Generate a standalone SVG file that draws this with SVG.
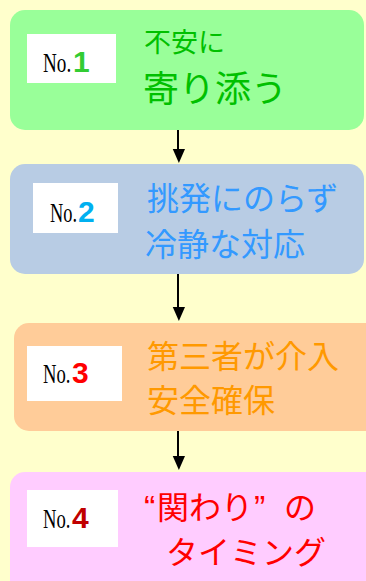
<svg xmlns="http://www.w3.org/2000/svg" width="366" height="581" viewBox="0 0 366 581">
<defs>
<style>
.bg{fill:#FFFFCC}
.lbl{fill:#FFFFFF}
.no{font-family:"Liberation Serif","Times New Roman",serif;font-size:27px;fill:#000}
.dig{font-family:"Liberation Sans",Arial,sans-serif;font-weight:bold;font-size:30px}
.jp{font-family:"Noto Sans CJK JP","Noto Sans CJK SC",sans-serif}
.q{font-family:"Liberation Sans",Arial,sans-serif;font-size:34px}
.conn line{stroke:#000;stroke-width:2}
</style>
<marker id="ah" markerWidth="14" markerHeight="16" refX="0" refY="8" orient="auto" markerUnits="userSpaceOnUse" viewBox="0 0 16 14">
<path d="M0,0 L16,7 L0,14 Z" fill="#000"/>
</marker>
</defs>
<rect class="bg" x="0" y="0" width="366" height="581"/>

<g id="node1">
<rect x="10" y="10" width="354" height="120" rx="15" fill="#99FF99"/>
<rect class="lbl" x="27" y="34" width="89" height="49"/>
<text class="no" transform="translate(43,72) scale(0.71,1)">No.</text>
<text class="dig" x="73" y="72" fill="#33CC33">1</text>
<text class="jp" x="144" y="52" font-size="27" fill="#00C000">不安に</text>
<text class="jp" x="143" y="102" font-size="36" fill="#00C000">寄り添う</text>
</g>

<g id="node2">
<rect x="10" y="164" width="354" height="110" rx="15" fill="#B8CCE4"/>
<rect class="lbl" x="33" y="183" width="85" height="50"/>
<text class="no" transform="translate(50,222) scale(0.68,1)">No.</text>
<text class="dig" x="78" y="222" fill="#00B0F0">2</text>
<text class="jp" x="147" y="210" font-size="32" fill="#3399FF">挑発にのらず</text>
<text class="jp" x="145" y="256" font-size="32" fill="#3399FF">冷静な対応</text>
</g>

<g id="node3">
<rect x="14" y="323" width="366" height="108" rx="15" fill="#FFCC99"/>
<rect class="lbl" x="27" y="346" width="95" height="55"/>
<text class="no" transform="translate(43,383) scale(0.69,1)">No.</text>
<text class="dig" x="72" y="383" fill="#FF0000">3</text>
<text class="jp" x="147" y="368" font-size="32" fill="#FF9900">第三者が介入</text>
<text class="jp" x="147" y="412" font-size="32" fill="#FF9900">安全確保</text>
</g>

<g id="node4">
<rect x="10" y="472" width="370" height="130" rx="15" fill="#FFCCFF"/>
<rect class="lbl" x="27" y="490" width="91" height="57"/>
<text class="no" transform="translate(43,528) scale(0.69,1)">No.</text>
<text class="dig" x="72" y="528" fill="#C00000">4</text>
<text class="jp" y="519" font-size="32" fill="#FF0000"><tspan class="q" x="144">“</tspan><tspan x="157">関わり</tspan><tspan class="q" x="254">”</tspan><tspan x="284">の</tspan></text>
<text class="jp" x="166" y="564" font-size="32" fill="#FF0000">タイミング</text>
</g>

<g id="connectors" class="conn">
<line x1="178" y1="130" x2="178" y2="149" marker-end="url(#ah)"/>
<line x1="178" y1="274" x2="178" y2="307" marker-end="url(#ah)"/>
<line x1="178" y1="431" x2="178" y2="456" marker-end="url(#ah)"/>
</g>
</svg>
